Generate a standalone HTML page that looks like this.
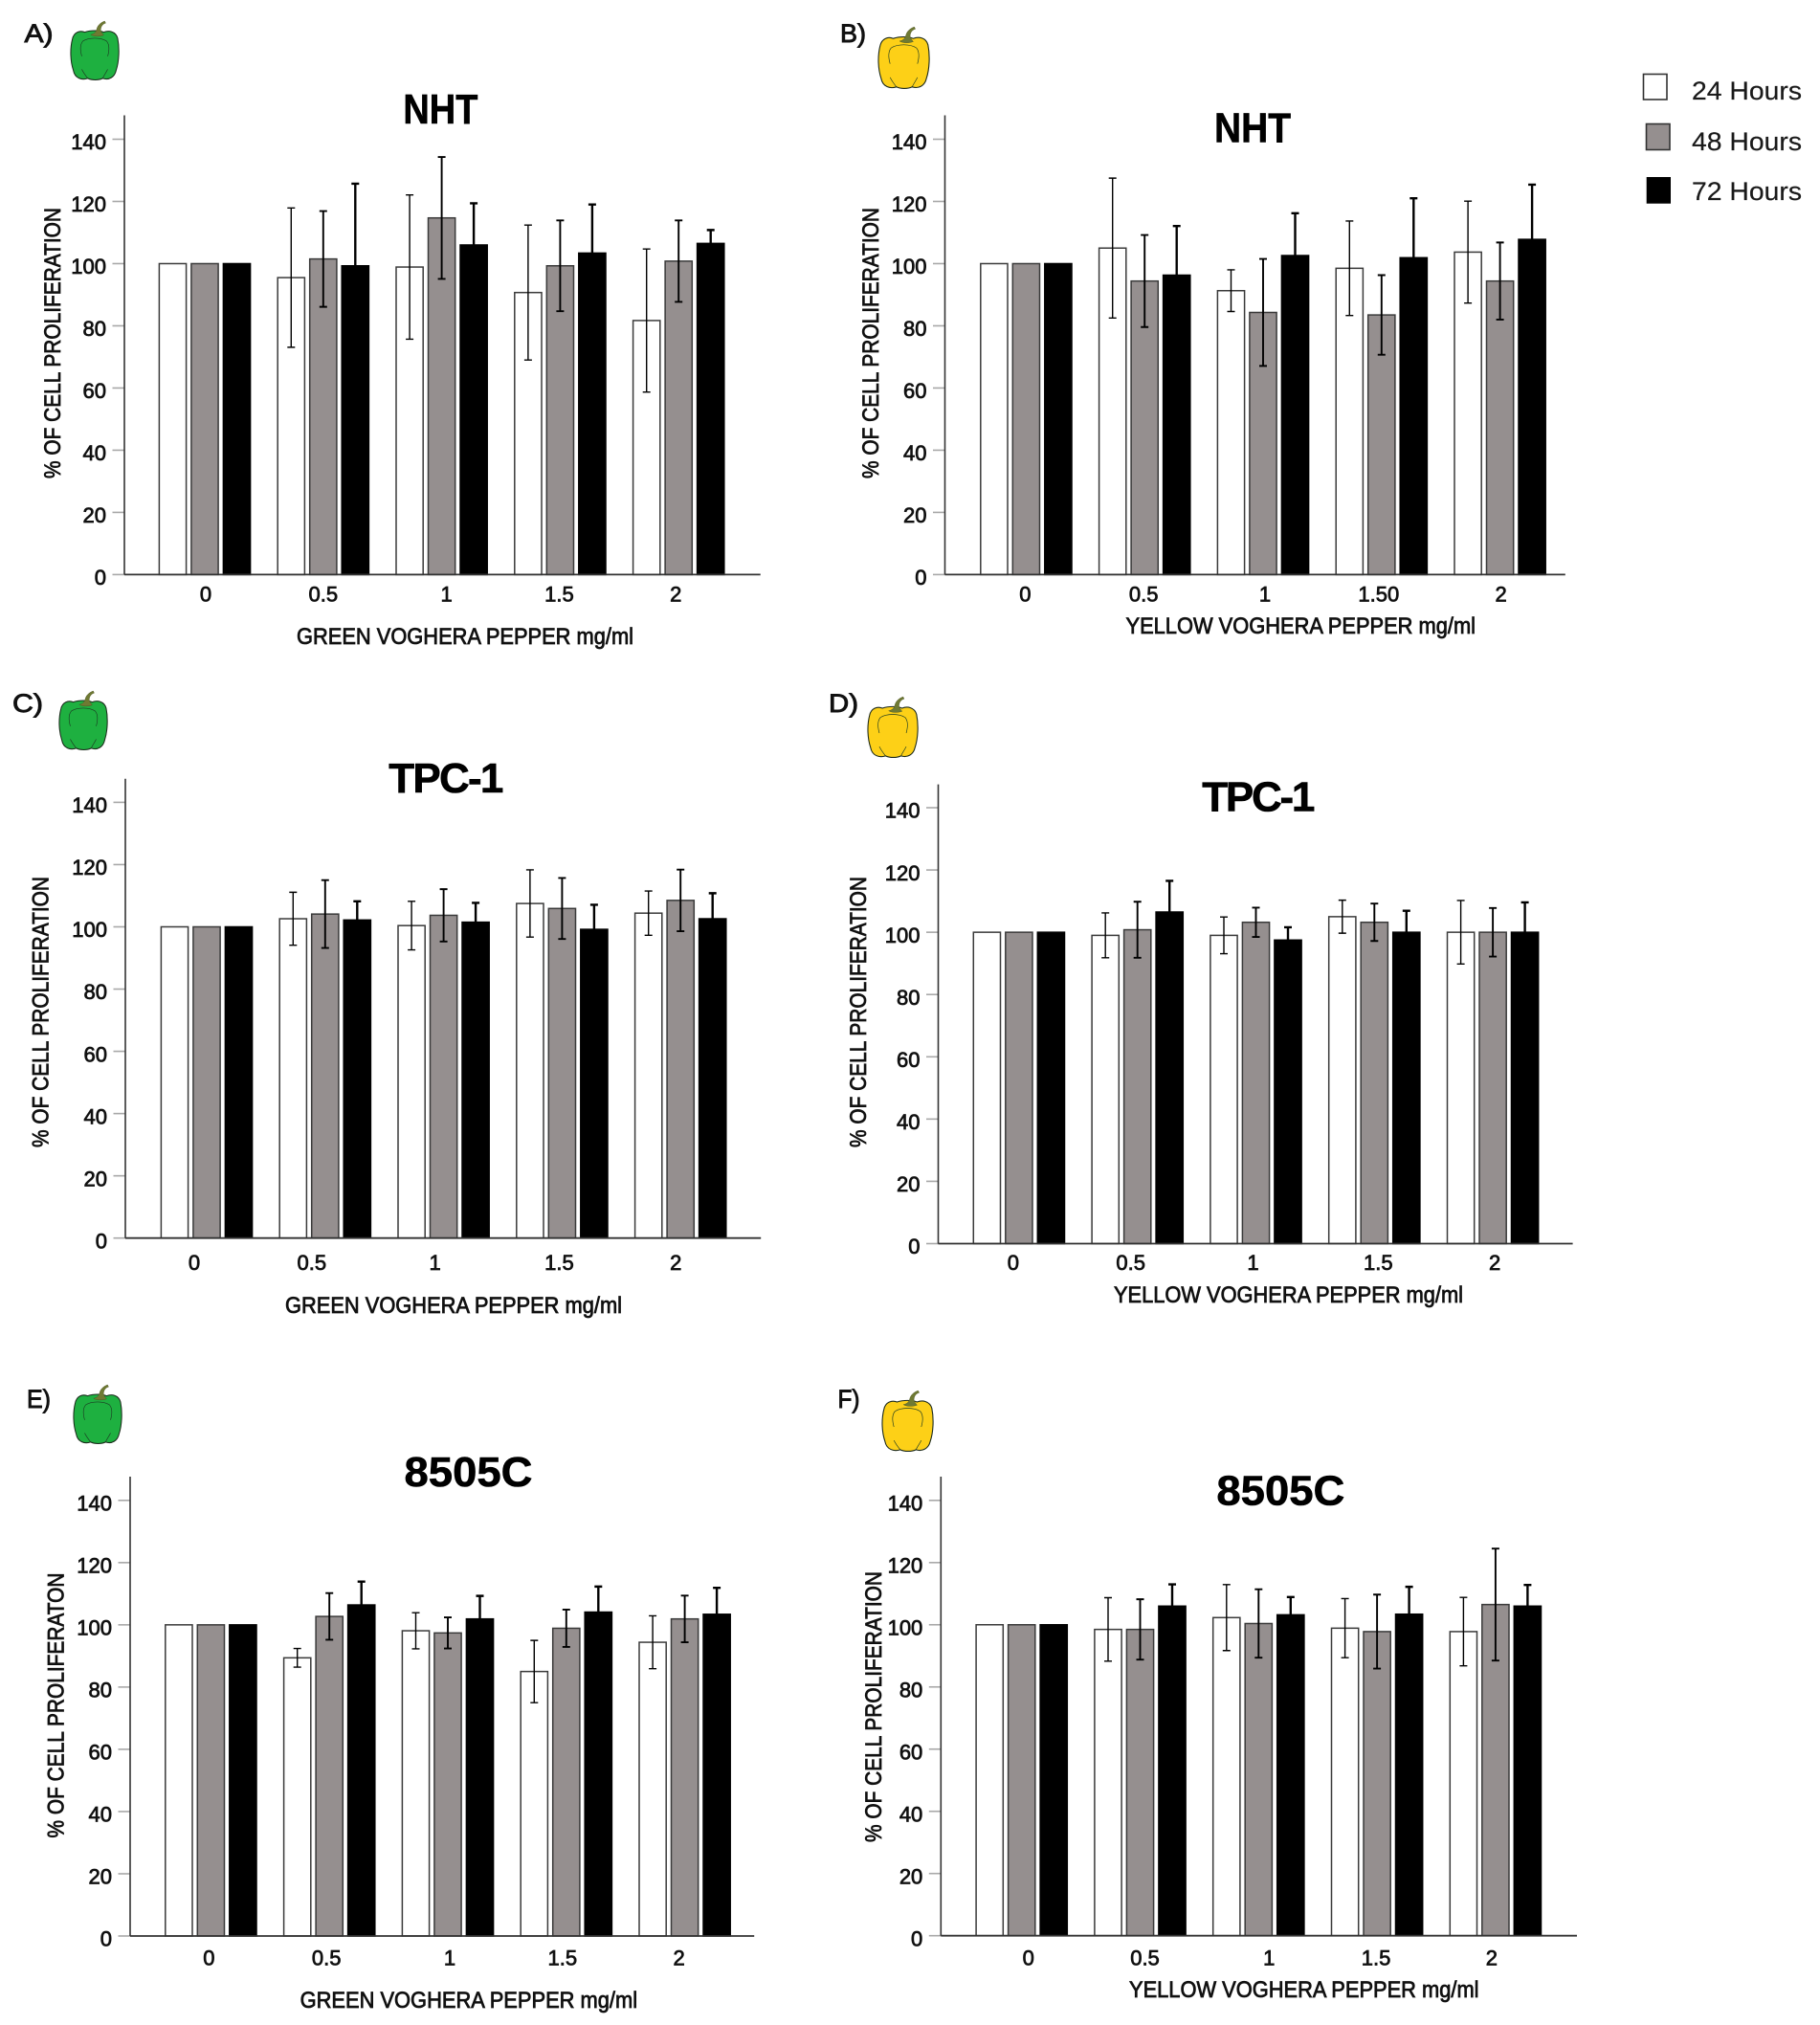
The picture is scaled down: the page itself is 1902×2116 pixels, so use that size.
<!DOCTYPE html>
<html lang="en">
<head>
<meta charset="utf-8">
<title>Cell proliferation with Voghera pepper extracts</title>
<style>
html,body{margin:0;padding:0;background:#fff;}
svg{display:block;}
text{font-family:"Liberation Sans",sans-serif;fill:#111;}
.panel-letter{font-size:27px;stroke:#111;stroke-width:.9;}
.panel-title{font-size:44px;font-weight:bold;fill:#000;stroke:#000;stroke-width:.6;}
.y-title,.x-title{font-size:24px;stroke:#111;stroke-width:.8;}
.tick-label{font-size:22px;stroke:#111;stroke-width:.75;}
.legend-text{font-size:27px;fill:#1a1a1a;stroke:#1a1a1a;stroke-width:.2;}
</style>
</head>
<body>
<svg id="figure" xmlns="http://www.w3.org/2000/svg" width="1902" height="2116" viewBox="0 0 1902 2116">
  <rect x="0" y="0" width="1902" height="2116" fill="#fff"/>
  <defs>
    <symbol id="pepper" viewBox="0 0 100 120" preserveAspectRatio="none">
      <path d="M30 24C20 20 8 24 5 38C0 58 1 82 7 100C10 116 24 120 36 116C44 120 58 120 66 116C78 120 90 114 93 100C99 82 100 56 96 36C92 22 78 20 68 24C58 20 42 20 30 24Z" fill="currentColor" stroke="#1c2a1c" stroke-width="2"/>
      <path d="M24 72C20 58 21 48 26 42C38 34 62 34 74 42C79 48 80 58 76 72" fill="none" stroke="#1c3a22" stroke-width="1.2"/>
      <path d="M24 98C28 106 32 111 36 116M76 98C72 106 68 111 66 116" fill="none" stroke="#1c3a22" stroke-width="1.2"/>
      <path d="M42 29C48 28 53 24 54 18C56 10 62 5 70 2L72 6C65 8 62 14 62 20C63 25 66 27 68 30C60 33 48 33 42 29Z" fill="#6f7a33" stroke="#4a5020" stroke-width=".8"/>
    </symbol>
  </defs>

  <g>
    <text class="panel-letter" x="25.5" y="44" textLength="30" lengthAdjust="spacingAndGlyphs">A)</text>
    <text class="panel-letter" x="878" y="44" textLength="27" lengthAdjust="spacingAndGlyphs">B)</text>
    <text class="panel-letter" x="13" y="744" textLength="32" lengthAdjust="spacingAndGlyphs">C)</text>
    <text class="panel-letter" x="866" y="744" textLength="31" lengthAdjust="spacingAndGlyphs">D)</text>
    <text class="panel-letter" x="28" y="1471" textLength="25" lengthAdjust="spacingAndGlyphs">E)</text>
    <text class="panel-letter" x="875.5" y="1471" textLength="23" lengthAdjust="spacingAndGlyphs">F)</text>
  </g>

  <g>
    <use href="#pepper" x="73" y="21" width="52" height="63" style="color:#1eb040"/>
    <use href="#pepper" x="917" y="27" width="55" height="66" style="color:#fdd017"/>
    <use href="#pepper" x="61" y="721" width="52" height="63" style="color:#1eb040"/>
    <use href="#pepper" x="906" y="727" width="54" height="65" style="color:#fdd017"/>
    <use href="#pepper" x="76" y="1446" width="52" height="63" style="color:#1eb040"/>
    <use href="#pepper" x="921" y="1452" width="55" height="65" style="color:#fdd017"/>
  </g>

  <g>
    <text class="panel-title" x="421.4" y="129" textLength="78" lengthAdjust="spacingAndGlyphs">NHT</text>
    <text class="panel-title" x="1269" y="148.5" textLength="80" lengthAdjust="spacingAndGlyphs">NHT</text>
    <text class="panel-title" x="406.3" y="828" textLength="120" lengthAdjust="spacing">TPC-1</text>
    <text class="panel-title" x="1256.3" y="847.5" textLength="118" lengthAdjust="spacing">TPC-1</text>
    <text class="panel-title" x="422.5" y="1553" textLength="134" lengthAdjust="spacingAndGlyphs">8505C</text>
    <text class="panel-title" x="1271.4" y="1572.5" textLength="134" lengthAdjust="spacingAndGlyphs">8505C</text>
  </g>

  <g>
    <text class="y-title" transform="translate(63 500) rotate(-90)" textLength="283" lengthAdjust="spacingAndGlyphs">% OF CELL PROLIFERATION</text>
    <text class="y-title" transform="translate(918 500) rotate(-90)" textLength="283" lengthAdjust="spacingAndGlyphs">% OF CELL PROLIFERATION</text>
    <text class="y-title" transform="translate(50.5 1199) rotate(-90)" textLength="283" lengthAdjust="spacingAndGlyphs">% OF CELL PROLIFERATION</text>
    <text class="y-title" transform="translate(904.8 1199) rotate(-90)" textLength="283" lengthAdjust="spacingAndGlyphs">% OF CELL PROLIFERATION</text>
    <text class="y-title" transform="translate(66.7 1920.5) rotate(-90)" textLength="277" lengthAdjust="spacingAndGlyphs">% OF CELL PROLIFERATON</text>
    <text class="y-title" transform="translate(921 1925) rotate(-90)" textLength="283" lengthAdjust="spacingAndGlyphs">% OF CELL PROLIFERATION</text>
  </g>

  <g>
    <text class="x-title" x="310" y="673" textLength="352" lengthAdjust="spacingAndGlyphs">GREEN VOGHERA PEPPER mg/ml</text>
    <text class="x-title" x="1176.5" y="662" textLength="365.5" lengthAdjust="spacingAndGlyphs">YELLOW VOGHERA PEPPER mg/ml</text>
    <text class="x-title" x="298" y="1372" textLength="352" lengthAdjust="spacingAndGlyphs">GREEN VOGHERA PEPPER mg/ml</text>
    <text class="x-title" x="1164" y="1361" textLength="365" lengthAdjust="spacingAndGlyphs">YELLOW VOGHERA PEPPER mg/ml</text>
    <text class="x-title" x="313.6" y="2098" textLength="352.5" lengthAdjust="spacingAndGlyphs">GREEN VOGHERA PEPPER mg/ml</text>
    <text class="x-title" x="1180" y="2087" textLength="365.5" lengthAdjust="spacingAndGlyphs">YELLOW VOGHERA PEPPER mg/ml</text>
  </g>

  <g>
    <g>
      <rect x="1717.5" y="77.5" width="24.5" height="26.5" fill="#fff" stroke="#333" stroke-width="1.6"/>
      <text class="legend-text" x="1768" y="104" textLength="115" lengthAdjust="spacingAndGlyphs">24 Hours</text>
    </g>
    <g>
      <rect x="1720.5" y="129.5" width="24.5" height="27" fill="#958f8f" stroke="#333" stroke-width="1.6"/>
      <text class="legend-text" x="1768" y="157" textLength="115" lengthAdjust="spacingAndGlyphs">48 Hours</text>
    </g>
    <g>
      <rect x="1720.7" y="185" width="25.3" height="27.7" fill="#000"/>
      <text class="legend-text" x="1768" y="209" textLength="115" lengthAdjust="spacingAndGlyphs">72 Hours</text>
    </g>
  </g>

  <g id="charts"></g>
</svg>

<script>
// ---- Data ----
const categories = ["0", "0.5", "1", "1.5", "2"];
const categoriesB = ["0", "0.5", "1", "1.50", "2"];
const yTickValues = [0, 20, 40, 60, 80, 100, 120, 140];

const a24 = [100, 95.5, 98.9, 90.7, 81.7];
const a48 = [100, 101.5, 114.7, 99.3, 100.8];
const a72 = [100, 99.3, 106, 103.4, 106.5];
const a24Err = [0, 22.4, 23.2, 21.7, 23];
const a48Err = [0, 15.4, 19.6, 14.6, 13.1];
const a72Err = [0, 26.4, 13.4, 15.6, 4.3];

const b24 = [100, 105, 91.3, 98.5, 103.7];
const b48 = [100, 94.4, 84.3, 83.5, 94.4];
const b72 = [100, 96.3, 102.6, 101.9, 107.8];
const b24Err = [0, 22.5, 6.7, 15.2, 16.4];
const b48Err = [0, 14.8, 17.2, 12.8, 12.4];
const b72Err = [0, 15.8, 13.6, 19.1, 17.6];

const c24 = [100, 102.6, 100.4, 107.5, 104.4];
const c48 = [100, 104.1, 103.7, 105.9, 108.5];
const c72 = [100, 102.2, 101.5, 99.2, 102.6];
const c24Err = [0, 8.5, 7.8, 10.8, 7.1];
const c48Err = [0, 10.9, 8.4, 9.8, 9.9];
const c72Err = [0, 6, 6.2, 7.9, 8.2];

const d24 = [100, 99, 99, 105, 100];
const d48 = [100, 100.8, 103.2, 103.2, 100];
const d72 = [100, 106.5, 97.5, 100, 100];
const d24Err = [0, 7.2, 5.9, 5.3, 10.2];
const d48Err = [0, 9, 4.7, 6, 7.8];
const d72Err = [0, 10, 4.1, 6.9, 9.6];

const e24 = [100, 89.4, 98.1, 85, 94.4];
const e48 = [100, 102.7, 97.4, 98.9, 101.9];
const e72 = [100, 106.4, 101.9, 104.1, 103.4];
const e24Err = [0, 3, 5.8, 10, 8.5];
const e48Err = [0, 7.5, 5, 6, 7.5];
const e72Err = [0, 7.5, 7.4, 8.2, 8.5];

const f24 = [100, 98.5, 102.3, 98.9, 97.8];
const f48 = [100, 98.5, 100.4, 97.8, 106.5];
const f72 = [100, 106, 103.2, 103.4, 106];
const f24Err = [0, 10.2, 10.6, 9.5, 11];
const f48Err = [0, 9.7, 11, 11.9, 18];
const f72Err = [0, 7, 5.7, 8.8, 6.8];

// ---- Series appearance ----
const seriesNames = ["24h", "48h", "72h"];
const seriesFill = ["#ffffff", "#958f8f", "#000000"];
const seriesStroke = ["#3a3a3a", "#3a3a3a", "#000000"];
const errorWidth = [1.4, 1.9, 2.4];

// ---- Panels: layout plus references to the data arrays ----
const panels = [
  {id:"a", cats:categories,  vals:[a24,a48,a72], errs:[a24Err,a48Err,a72Err], axisX:130,   right:794.7,  base:600.4,  y140:145.5, top:120.5, first:166.4,  shift:[1,0,5,-1,-3],      labelY:628.5},
  {id:"b", cats:categoriesB, vals:[b24,b48,b72], errs:[b24Err,b48Err,b72Err], axisX:987.5, right:1635.8, base:600.4,  y140:145.5, top:120.5, first:1024.8, shift:[-1,-1,2,-3,1],     labelY:628.5},
  {id:"c", cats:categories,  vals:[c24,c48,c72], errs:[c24Err,c48Err,c72Err], axisX:131,   right:795.2,  base:1293.7, y140:838.4, top:813.8, first:168.4,  shift:[-13,-14,-9,-3,-5], labelY:1327},
  {id:"d", cats:categories,  vals:[d24,d48,d72], errs:[d24Err,d48Err,d72Err], axisX:980.5, right:1643.6, base:1299.5, y140:844,   top:819.6, first:1017.3, shift:[-6,-7,-3,4,2],     labelY:1327},
  {id:"e", cats:categories,  vals:[e24,e48,e72], errs:[e24Err,e48Err,e72Err], axisX:136,   right:788.2,  base:2023,   y140:1567.8,top:1543,  first:172.8,  shift:[-2,-3,2,-4,-6],    labelY:2053.5},
  {id:"f", cats:categories,  vals:[f24,f48,f72], errs:[f24Err,f48Err,f72Err], axisX:983.3, right:1648,   base:2022.7, y140:1567.8,top:1543,  first:1020.1, shift:[7,5,11,-1,-4],     labelY:2053.5}
];

const GROUP_STEP = 123.8, BAR_STEP = 33.5, BAR_WIDTH = 28.2, CAP = 4;
const NS = "http://www.w3.org/2000/svg";
const root = document.getElementById("charts");

function make(tag, attrs, parent) {
  const el = document.createElementNS(NS, tag);
  for (const k in attrs) el.setAttribute(k, attrs[k]);
  parent.appendChild(el);
  return el;
}

panels.forEach(function (p) {
  const yScale = function (v) { return p.base - v * (p.base - p.y140) / 140; };
  const xBand = function (g, s) { return p.first + g * GROUP_STEP + s * BAR_STEP; };

  const g = make("g", {}, root);
  
  

  // y ticks and labels
  yTickValues.forEach(function (t) {
    const tick = make("line", {x1:p.axisX - 12.5, x2:p.axisX, y1:yScale(t), y2:yScale(t), stroke:"#a8a8a8", "stroke-width":1.6}, g);
    
    
    const lab = make("text", {x:p.axisX - 19, y:yScale(t) + 10.7, "text-anchor":"end", "class":"tick-label"}, g);
    
    
    lab.textContent = String(t);
  });

  // bars
  p.cats.forEach(function (cat, gi) {
    seriesNames.forEach(function (sn, si) {
      const v = p.vals[si][gi];
      const bar = make("rect", {x:xBand(gi, si), y:yScale(v), width:BAR_WIDTH, height:p.base - yScale(v), fill:seriesFill[si], stroke:seriesStroke[si], "stroke-width":1.5}, g);
      
      
    });
  });

  // error bars drawn after bars
  p.cats.forEach(function (cat, gi) {
    seriesNames.forEach(function (sn, si) {
      const v = p.vals[si][gi], e = p.errs[si][gi];
      if (!e) return;
      const cx = xBand(gi, si) + BAR_WIDTH / 2;
      const d = "M" + cx + " " + yScale(v + e) + "V" + yScale(v - e) +
        "M" + (cx - CAP) + " " + yScale(v + e) + "H" + (cx + CAP) +
        "M" + (cx - CAP) + " " + yScale(v - e) + "H" + (cx + CAP);
      const err = make("path", {d:d, fill:"none", stroke:"#000", "stroke-width":errorWidth[si]}, g);
      
      
    });
  });

  // axes
  const yAxis = make("line", {x1:p.axisX, x2:p.axisX, y1:p.top, y2:p.base, stroke:"#333", "stroke-width":1.6}, g);
  
  
  const xAxis = make("line", {x1:p.axisX, x2:p.right, y1:p.base, y2:p.base, stroke:"#333", "stroke-width":1.8}, g);
  
  

  // x tick labels
  p.cats.forEach(function (cat, gi) {
    const lab = make("text", {x:xBand(gi, 1) + BAR_WIDTH / 2 + p.shift[gi], y:p.labelY, "text-anchor":"middle", "class":"tick-label"}, g);
    
    
    lab.textContent = cat;
  });
});
</script>
</body>
</html>
